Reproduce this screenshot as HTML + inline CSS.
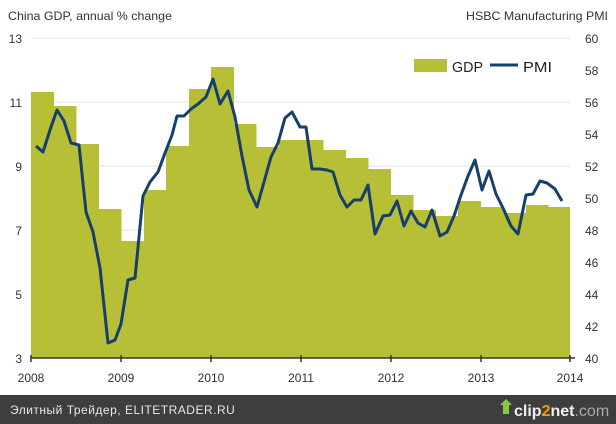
<!DOCTYPE html><html><head><style>body{margin:0;background:#fff}svg{display:block;font-family:"Liberation Sans",sans-serif}</style></head><body>
<svg width="616" height="424" viewBox="0 0 616 424">
<rect width="616" height="424" fill="#fff"/>
<g stroke="#e2e2e2" stroke-width="1">
<line x1="31" x2="570" y1="38" y2="38"/><line x1="31" x2="570" y1="102" y2="102"/><line x1="31" x2="570" y1="166" y2="166"/><line x1="31" x2="570" y1="230" y2="230"/><line x1="31" x2="570" y1="294" y2="294"/></g>
<g fill="#b6bf36">
<rect x="31" y="92" width="23" height="266"/><rect x="54" y="106" width="22.5" height="252"/><rect x="76" y="144" width="23" height="214"/><rect x="99" y="209" width="22.5" height="149"/><rect x="121" y="241" width="23" height="117"/><rect x="144" y="190" width="22.5" height="168"/><rect x="166" y="146" width="23" height="212"/><rect x="189" y="89" width="22.5" height="269"/><rect x="211" y="67" width="23" height="291"/><rect x="234" y="124" width="22.5" height="234"/><rect x="256" y="147" width="23" height="211"/><rect x="279" y="140" width="22.5" height="218"/><rect x="301" y="140" width="22.5" height="218"/><rect x="323" y="150" width="23" height="208"/><rect x="346" y="158" width="22.5" height="200"/><rect x="368" y="169" width="23" height="189"/><rect x="391" y="195" width="22.5" height="163"/><rect x="413" y="210" width="23" height="148"/><rect x="436" y="216" width="22.5" height="142"/><rect x="458" y="201" width="23" height="157"/><rect x="481" y="207" width="22.5" height="151"/><rect x="503" y="213" width="23" height="145"/><rect x="526" y="205" width="22.5" height="153"/><rect x="548" y="207" width="22" height="151"/>
</g>
<polyline fill="none" stroke="#173f6d" stroke-width="3" stroke-linejoin="round" points="36,146 43,152 50,130 57,110 64,121 71,143 79,145 86,212 93,232 100,268 108,343 115,340 121,324 128,280 135,278 143,196 150,182 158,172 165,153 172,135 177,116 184,116 191,109 198,104 206,97 213,79 220,104 228,91 235,117 242,156 249,190 257,207 264,182 271,157 278,143 285,118 292,112 300,127 306,127 312,169 320,169 327,170 333,172 340,195 347,207 354,200 361,200 368,185 375,234 383,216 390,215 397,201 404,226 411,211 418,223 425,227 432,210 440,236 447,232 454,216 461,195 468,176 475,160 482,190 489,171 496,194 503,208 511,226 518,234 526,195 533,194 540,181 547,183 555,189 562,201"/>
<line x1="31" x2="575" y1="358" y2="358" stroke="#333" stroke-width="1.5"/>
<g stroke="#333" stroke-width="1.5"><line x1="31" x2="31" y1="355" y2="362"/><line x1="121" x2="121" y1="355" y2="362"/><line x1="211" x2="211" y1="355" y2="362"/><line x1="301" x2="301" y1="355" y2="362"/><line x1="391" x2="391" y1="355" y2="362"/><line x1="481" x2="481" y1="355" y2="362"/><line x1="570" x2="570" y1="355" y2="362"/></g>
<g font-size="12" fill="#333">
<text x="8" y="20" textLength="164" lengthAdjust="spacingAndGlyphs">China GDP, annual % change</text>
<text x="608" y="20" text-anchor="end" textLength="142" lengthAdjust="spacingAndGlyphs">HSBC Manufacturing PMI</text>
<g text-anchor="end"><text x="22" y="43">13</text><text x="22" y="107">11</text><text x="22" y="171">9</text><text x="22" y="235">7</text><text x="22" y="299">5</text><text x="22" y="363">3</text></g>
<g><text x="585" y="43">60</text><text x="585" y="75">58</text><text x="585" y="107">56</text><text x="585" y="139">54</text><text x="585" y="171">52</text><text x="585" y="203">50</text><text x="585" y="235">48</text><text x="585" y="267">46</text><text x="585" y="299">44</text><text x="585" y="331">42</text><text x="585" y="363">40</text></g>
<g text-anchor="middle"><text x="31" y="382">2008</text><text x="121" y="382">2009</text><text x="211" y="382">2010</text><text x="301" y="382">2011</text><text x="391" y="382">2012</text><text x="481" y="382">2013</text><text x="570" y="382">2014</text></g>
</g>
<rect x="414" y="59" width="33" height="13" fill="#b6bf36"/>
<text x="452" y="72" font-size="15" fill="#222" textLength="31" lengthAdjust="spacingAndGlyphs">GDP</text>
<line x1="490" x2="518" y1="65" y2="65" stroke="#173f6d" stroke-width="3"/>
<text x="523" y="72" font-size="15" fill="#222" textLength="29" lengthAdjust="spacingAndGlyphs">PMI</text>
<rect x="0" y="395" width="616" height="29" fill="#3e3e3e"/>
<text x="10" y="414" font-size="12" fill="#e8e8e8" letter-spacing="0.5">Элитный Трейдер, ELITETRADER.RU</text>
<polygon points="500,405 506,399 512,405 509,405 509,414 503,414 503,405" fill="#8cc63f"/>
<text x="514" y="416" font-size="16" font-weight="bold" fill="#eee">clip<tspan fill="#f39c12">2</tspan>net<tspan fill="#aaa" font-weight="normal">.com</tspan></text>
</svg></body></html>
